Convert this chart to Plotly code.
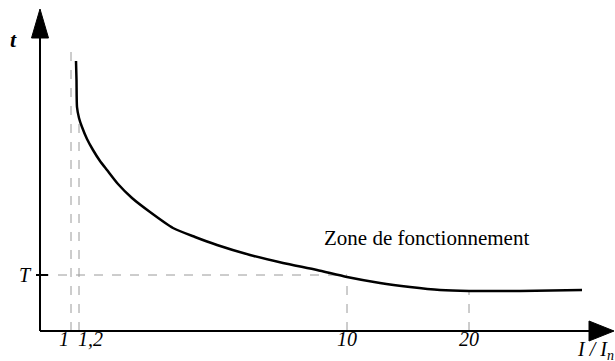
import plotly.graph_objects as go

# Schematic tripping curve t = f(I / In) -- values in schematic units
curve_x = [36, 36.5, 37, 39, 42, 47, 53, 60, 67, 78, 92, 110, 133, 155, 177, 210,
           243, 277, 307, 340, 370, 400, 429, 480, 542]
curve_y = [270, 251, 224, 213, 204, 192, 181, 170, 161, 147, 133, 119, 103, 94, 86, 76,
           68, 61, 54, 48, 44, 41, 40, 40, 41]

tick_labels = ["1", "1,2", "10", "20"]
tick_pos = [31, 39, 307, 429]
tick_top = [279, 213, 54, 40]       # where the dashed reference lines stop
T_level = 56
zone_label = "Zone de fonctionnement"

SERIF = "Liberation Serif"
GREY = "#9a9a9a"

fig = go.Figure()
fig.add_trace(go.Scatter(x=curve_x, y=curve_y, mode="lines",
                         line=dict(color="black", width=2.5, shape="spline", smoothing=0.6),
                         hoverinfo="skip", showlegend=False))

shapes = []
# dashed verticals
for xp, top in zip(tick_pos, tick_top):
    shapes.append(dict(type="line", x0=xp, x1=xp, y0=0, y1=top,
                       line=dict(color=GREY, width=1, dash="dash"), layer="below"))
# dashed horizontal at T
shapes.append(dict(type="line", x0=0, x1=tick_pos[2], y0=T_level, y1=T_level,
                   line=dict(color=GREY, width=1, dash="dash"), layer="below"))
# axes
shapes.append(dict(type="line", x0=0, x1=552, y0=0, y1=0, line=dict(color="black", width=2)))
shapes.append(dict(type="line", x0=0, x1=0, y0=0, y1=296, line=dict(color="black", width=2)))
# T tick
shapes.append(dict(type="line", x0=-4, x1=8, y0=T_level, y1=T_level, line=dict(color="black", width=2)))
# arrow heads
shapes.append(dict(type="path", path="M -8.5,293 L 8.5,293 L 0,322 Z",
                   fillcolor="black", line=dict(color="black", width=1)))
shapes.append(dict(type="path", path="M 549,-10 L 549,10 L 574,0 Z",
                   fillcolor="black", line=dict(color="black", width=1)))

annotations = []
for i, (lab, xp) in enumerate(zip(tick_labels, tick_pos)):
    if i == 0:
        anchor, xs = "right", 0
    elif i == 1:
        anchor, xs = "left", -3
    else:
        anchor, xs = "center", 0
    annotations.append(dict(x=xp, y=0, text=f"<i>{lab}</i>", showarrow=False,
                            xanchor=anchor, yanchor="top", xshift=xs, yshift=5,
                            font=dict(family=SERIF, size=20, color="black")))
annotations.append(dict(x=-27, y=292, text="<b><i>t</i></b>", showarrow=False,
                        font=dict(family=SERIF, size=22, color="black")))
annotations.append(dict(x=-6, y=T_level, text="<i>T</i>", showarrow=False, xanchor="right",
                        font=dict(family=SERIF, size=20, color="black")))
annotations.append(dict(x=535, y=-19, text="<i>I / I<sub>n</sub></i>", showarrow=False,
                        xanchor="left", font=dict(family=SERIF, size=20, color="black")))
annotations.append(dict(x=386, y=93, text=zone_label, showarrow=False,
                        font=dict(family=SERIF, size=21, color="black")))

fig.update_layout(
    width=615, height=361,
    margin=dict(l=0, r=0, t=0, b=0),
    paper_bgcolor="white", plot_bgcolor="white",
    xaxis=dict(range=[-40, 575], visible=False, fixedrange=True),
    yaxis=dict(range=[-30, 331], visible=False, fixedrange=True),
    shapes=shapes, annotations=annotations,
)
fig.write_html("out.html", config={"displayModeBar": False},
               post_script="document.body.style.margin='0';document.body.style.overflow='hidden';")
